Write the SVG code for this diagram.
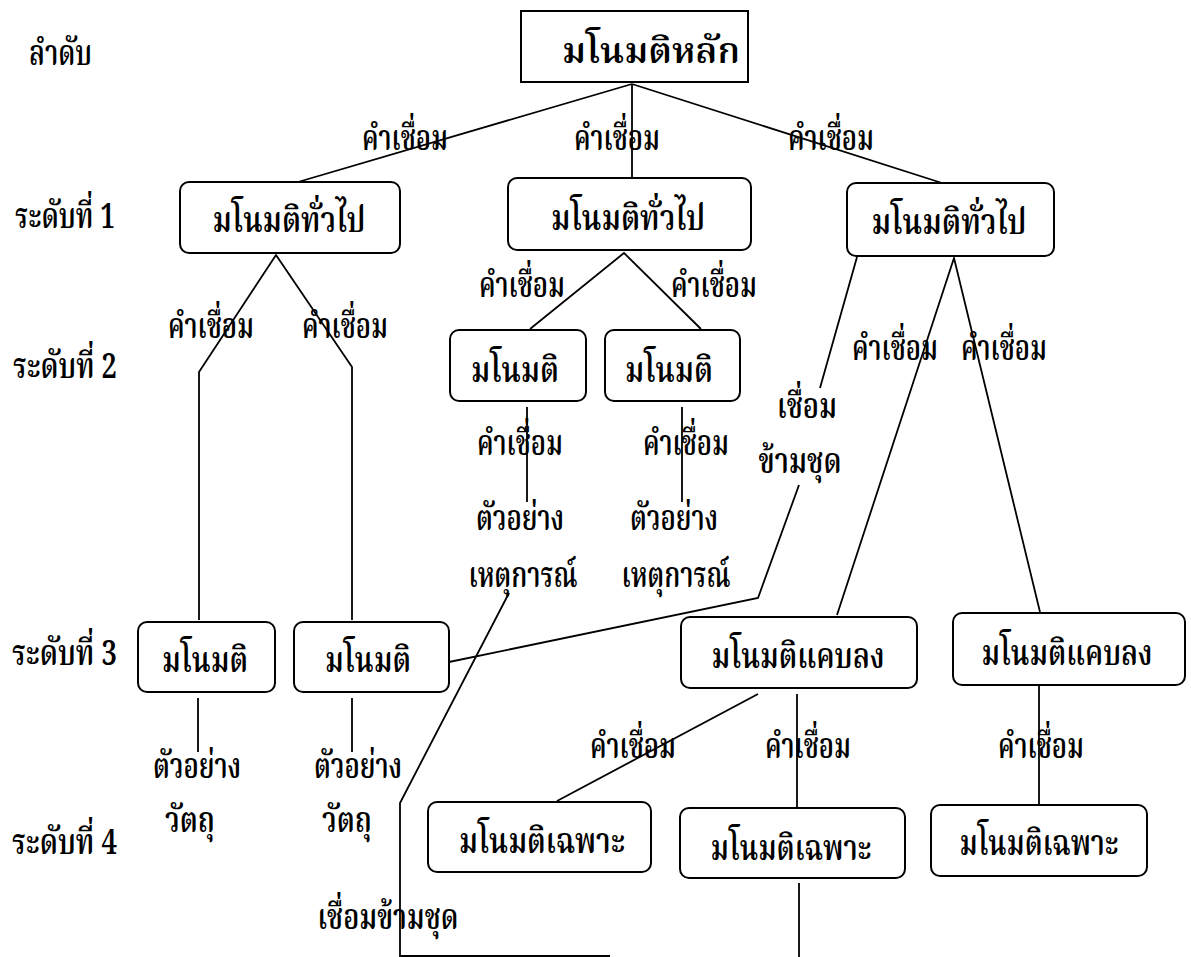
<svg xmlns="http://www.w3.org/2000/svg" width="1191" height="957" viewBox="0 0 1191 957">
<style>
.t{font-family:"Noto Serif Thai","Noto Sans Thai","Norasi","Loma","Garuda","Noto Sans","DejaVu Sans",sans-serif;font-size:35px;font-weight:600;fill:#000;text-anchor:middle}
.l{text-anchor:start}
.b{fill:#fff;stroke:#000;stroke-width:2}
.c{fill:none;stroke:#000;stroke-width:1.8}
</style>
<rect width="1191" height="957" fill="#fff"/>
<g id="levels">
<text class="t l" x="29" y="65" textLength="63" lengthAdjust="spacingAndGlyphs">ลำดับ</text>
<text class="t l" x="15" y="228" textLength="100" lengthAdjust="spacingAndGlyphs">ระดับที่ 1</text>
<text class="t l" x="13" y="378" textLength="104" lengthAdjust="spacingAndGlyphs">ระดับที่ 2</text>
<text class="t l" x="12" y="665" textLength="105" lengthAdjust="spacingAndGlyphs">ระดับที่ 3</text>
<text class="t l" x="12" y="854" textLength="105" lengthAdjust="spacingAndGlyphs">ระดับที่ 4</text>
</g>
<g id="connectors">
<path class="c" d="M632 84 L298 182 M632 84 L632 183 M632 84 L942 183"/>
<path class="c" d="M199 620 V372 L276 255 L352 367 V620"/>
<path class="c" d="M530 329 L624 253 L701 329"/>
<path class="c" d="M837 615 L954 258 L1040 612"/>
<path class="c" d="M857 257 L820 388 M799 485 L758 598 L449 662"/>
<path class="c" d="M527 407 V502 M682 407 V502"/>
<path class="c" d="M509 593 L400 803 V956 H610"/>
<path class="c" d="M198 698 V752 M352 698 V752"/>
<path class="c" d="M758 694 L557 801 M797 694 V808"/>
<path class="c" d="M1039 685 V805"/>
<path class="c" d="M799 883 V957"/>
</g>
<g id="link-labels">
<text class="t" x="405" y="150" textLength="86" lengthAdjust="spacingAndGlyphs">คำเชื่อม</text>
<text class="t" x="617" y="150" textLength="86" lengthAdjust="spacingAndGlyphs">คำเชื่อม</text>
<text class="t" x="831" y="150" textLength="86" lengthAdjust="spacingAndGlyphs">คำเชื่อม</text>
<text class="t" x="211" y="338" textLength="86" lengthAdjust="spacingAndGlyphs">คำเชื่อม</text>
<text class="t" x="345" y="338" textLength="86" lengthAdjust="spacingAndGlyphs">คำเชื่อม</text>
<text class="t" x="522" y="297" textLength="86" lengthAdjust="spacingAndGlyphs">คำเชื่อม</text>
<text class="t" x="714" y="297" textLength="86" lengthAdjust="spacingAndGlyphs">คำเชื่อม</text>
<text class="t" x="520" y="455" textLength="86" lengthAdjust="spacingAndGlyphs">คำเชื่อม</text>
<text class="t" x="686" y="455" textLength="86" lengthAdjust="spacingAndGlyphs">คำเชื่อม</text>
<text class="t" x="520" y="530" textLength="88" lengthAdjust="spacingAndGlyphs">ตัวอย่าง</text>
<text class="t" x="674" y="530" textLength="88" lengthAdjust="spacingAndGlyphs">ตัวอย่าง</text>
<text class="t" x="523" y="587" textLength="109" lengthAdjust="spacingAndGlyphs">เหตุการณ์</text>
<text class="t" x="676" y="587" textLength="109" lengthAdjust="spacingAndGlyphs">เหตุการณ์</text>
<text class="t" x="807" y="418" textLength="60" lengthAdjust="spacingAndGlyphs">เชื่อม</text>
<text class="t" x="800" y="473" textLength="83" lengthAdjust="spacingAndGlyphs">ข้ามชุด</text>
<text class="t" x="895" y="360" textLength="86" lengthAdjust="spacingAndGlyphs">คำเชื่อม</text>
<text class="t" x="1004" y="360" textLength="86" lengthAdjust="spacingAndGlyphs">คำเชื่อม</text>
<text class="t" x="197" y="778" textLength="88" lengthAdjust="spacingAndGlyphs">ตัวอย่าง</text>
<text class="t" x="358" y="778" textLength="88" lengthAdjust="spacingAndGlyphs">ตัวอย่าง</text>
<text class="t" x="190" y="832" textLength="50" lengthAdjust="spacingAndGlyphs">วัตถุ</text>
<text class="t" x="347" y="832" textLength="50" lengthAdjust="spacingAndGlyphs">วัตถุ</text>
<text class="t" x="633" y="758" textLength="86" lengthAdjust="spacingAndGlyphs">คำเชื่อม</text>
<text class="t" x="808" y="758" textLength="86" lengthAdjust="spacingAndGlyphs">คำเชื่อม</text>
<text class="t" x="1041" y="758" textLength="86" lengthAdjust="spacingAndGlyphs">คำเชื่อม</text>
<text class="t" x="388" y="929" textLength="141" lengthAdjust="spacingAndGlyphs">เชื่อมข้ามชุด</text>
</g>
<g id="n-main"><rect class="b" x="521" y="11" width="227" height="71"/><text class="t" x="651" y="63" textLength="178" lengthAdjust="spacingAndGlyphs">มโนมติหลัก</text></g>
<g id="n-g1"><rect class="b" x="180" y="182" width="220" height="71" rx="9"/><text class="t" x="289" y="232" textLength="153" lengthAdjust="spacingAndGlyphs">มโนมติทั่วไป</text></g>
<g id="n-g2"><rect class="b" x="508" y="178" width="243" height="72" rx="9"/><text class="t" x="628" y="230" textLength="154" lengthAdjust="spacingAndGlyphs">มโนมติทั่วไป</text></g>
<g id="n-g3"><rect class="b" x="847" y="183" width="207" height="73" rx="9"/><text class="t" x="949" y="234" textLength="155" lengthAdjust="spacingAndGlyphs">มโนมติทั่วไป</text></g>
<g id="n-c1"><rect class="b" x="450" y="330" width="136" height="71" rx="9"/><text class="t" x="515" y="382" textLength="88" lengthAdjust="spacingAndGlyphs">มโนมติ</text></g>
<g id="n-c2"><rect class="b" x="605" y="330" width="135" height="71" rx="9"/><text class="t" x="669" y="382" textLength="88" lengthAdjust="spacingAndGlyphs">มโนมติ</text></g>
<g id="n-c3"><rect class="b" x="138" y="622" width="137" height="70" rx="9"/><text class="t" x="205" y="672" textLength="86" lengthAdjust="spacingAndGlyphs">มโนมติ</text></g>
<g id="n-c4"><rect class="b" x="294" y="622" width="155" height="70" rx="9"/><text class="t" x="368" y="672" textLength="86" lengthAdjust="spacingAndGlyphs">มโนมติ</text></g>
<g id="n-n1"><rect class="b" x="681" y="617" width="236" height="71" rx="9"/><text class="t" x="798" y="668" textLength="173" lengthAdjust="spacingAndGlyphs">มโนมติแคบลง</text></g>
<g id="n-n2"><rect class="b" x="953" y="613" width="232" height="72" rx="9"/><text class="t" x="1067" y="665" textLength="171" lengthAdjust="spacingAndGlyphs">มโนมติแคบลง</text></g>
<g id="n-s1"><rect class="b" x="428" y="802" width="223" height="70" rx="9"/><text class="t" x="542" y="853" textLength="166" lengthAdjust="spacingAndGlyphs">มโนมติเฉพาะ</text></g>
<g id="n-s2"><rect class="b" x="680" y="808" width="225" height="70" rx="9"/><text class="t" x="791" y="860" textLength="161" lengthAdjust="spacingAndGlyphs">มโนมติเฉพาะ</text></g>
<g id="n-s3"><rect class="b" x="931" y="805" width="216" height="71" rx="9"/><text class="t" x="1039" y="855" textLength="159" lengthAdjust="spacingAndGlyphs">มโนมติเฉพาะ</text></g>
</svg>
